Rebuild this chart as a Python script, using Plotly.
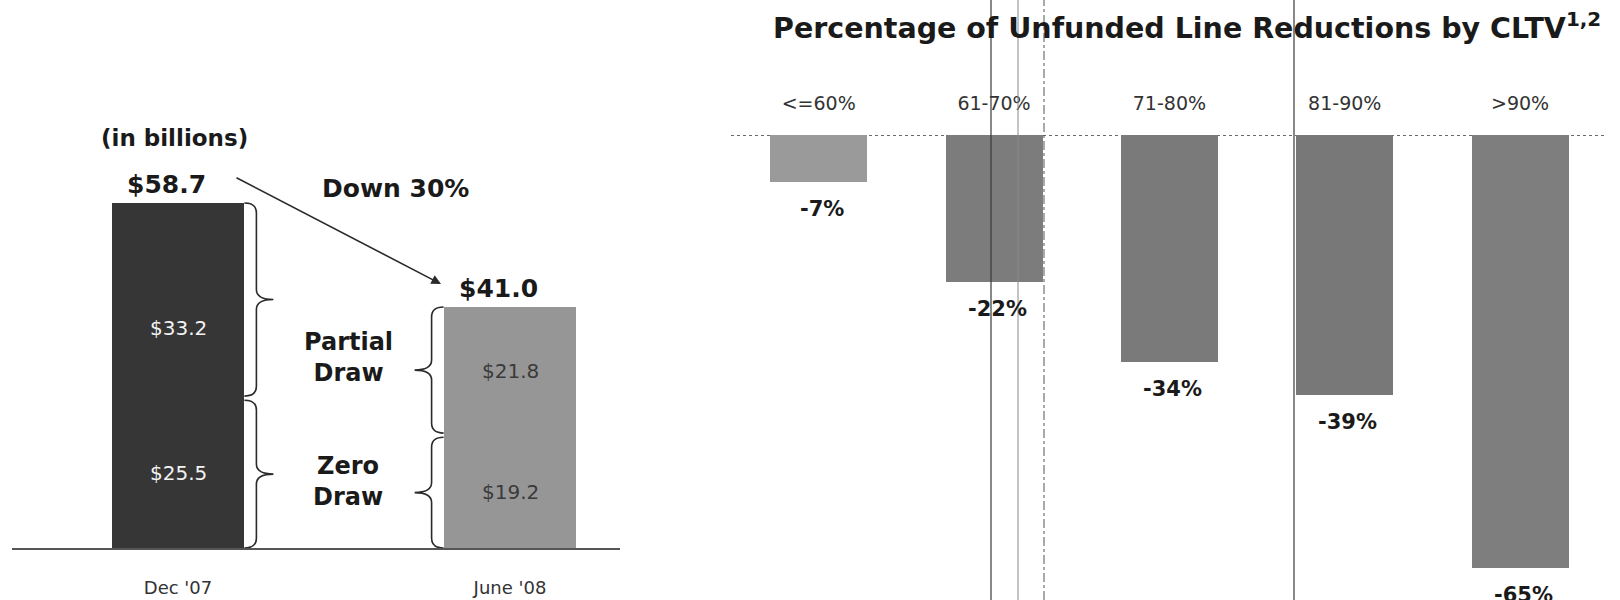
import plotly.graph_objects as go

# ---------------- data ----------------
periods = ["Dec '07", "June '08"]
zero_draw = [25.5, 19.2]
partial_draw = [33.2, 21.8]

cltv_buckets = ["<=60%", "61-70%", "71-80%", "81-90%", ">90%"]
reductions = [-7, -22, -34, -39, -65]

# ---------------- style ----------------
W, H = 1620, 600
FONT = "DejaVu Sans"
left_colors = ["#363636", "#969696"]
left_text_colors = ["#f2f2f2", "#3a3a3a"]
right_colors = ["#9a9a9a", "#7c7c7c", "#7a7a7a", "#787878", "#7e7e7e"]

# left plot geometry (pixels)
L_X0, L_X1 = 12, 620
L_YB, L_YT = 548, 100
L_PX_PER_X = 332.0
L_C0 = 178.0
L_RANGE_Y = 76.23
L_PX_PER_Y = (L_YB - L_YT) / L_RANGE_Y
BAR_W_L = 0.40

# right plot geometry
R_X0, R_X1 = 731, 1606
R_Y0 = 135
R_RANGE = [-69.75, 0]
BAR_W_R = 0.553


def px(x):
    return x / W


def py(y):
    return 1 - y / H


fig = go.Figure()
idx_l = list(range(len(periods)))
idx_r = list(range(len(cltv_buckets)))

fig.add_trace(go.Bar(x=idx_l, y=zero_draw, width=BAR_W_L, marker=dict(color=left_colors, line=dict(width=0)),
                     xaxis="x", yaxis="y", hoverinfo="skip", name="Zero Draw"))
fig.add_trace(go.Bar(x=idx_l, y=partial_draw, width=BAR_W_L, marker=dict(color=left_colors, line=dict(width=0)),
                     xaxis="x", yaxis="y", hoverinfo="skip", name="Partial Draw"))
fig.add_trace(go.Bar(x=idx_r, y=reductions, width=BAR_W_R, marker=dict(color=right_colors, line=dict(width=0)),
                     xaxis="x2", yaxis="y2", hoverinfo="skip", name="Reduction"))

annotations = []
shapes = []


def note(x, y, text, size, color="#1a1a1a", **kw):
    d = dict(x=x, y=y, xref="paper", yref="paper", text=text, showarrow=False,
             xanchor="center", yanchor="middle", font=dict(family=FONT, size=size, color=color))
    d.update(kw)
    return d


# ---- left: totals, segment labels
totals = [z + p for z, p in zip(zero_draw, partial_draw)]
for i, t in enumerate(totals):
    annotations.append(note(i, t, f"<b>${t:.1f}</b>", 25, xref="x", yref="y", xshift=-12, yshift=19))
partial_shift = [-27, 0]
for i in idx_l:
    annotations.append(note(i, zero_draw[i] / 2, f"${zero_draw[i]:.1f}", 20, left_text_colors[i],
                            xref="x", yref="y"))
    annotations.append(note(i, zero_draw[i] + partial_draw[i] / 2, f"${partial_draw[i]:.1f}", 20,
                            left_text_colors[i], xref="x", yref="y", yshift=partial_shift[i]))

down_pct = round((totals[0] - totals[1]) / totals[0] * 100)
annotations += [
    note(px(174), py(138), "<b>(in billions)</b>", 23),
    note(px(395), py(189), f"<b>Down {down_pct}%</b>", 25),
    note(px(348), py(357), "<b>Partial<br>Draw</b>", 24),
    note(px(348), py(481), "<b>Zero<br>Draw</b>", 24),
]
# arrow
annotations.append(dict(x=(441 - L_C0) / L_PX_PER_X, y=(L_YB - 284) / L_PX_PER_Y, xref="x", yref="y",
                        ax=(235 - L_C0) / L_PX_PER_X, ay=(L_YB - 177) / L_PX_PER_Y, axref="x", ayref="y",
                        text="", showarrow=True, arrowhead=2, arrowsize=1.2, arrowwidth=1.6, arrowcolor="#2a2a2a"))


# braces
def brace_path(xe, y0, y1, d):
    xm = xe + d * 12 / L_PX_PER_X
    xt = xe + d * 29 / L_PX_PER_X
    r = 10 / L_PX_PER_Y
    ym = (y0 + y1) / 2
    return (f"M {xe},{y1} Q {xm},{y1} {xm},{y1 - r} L {xm},{ym + r} Q {xm},{ym} {xt},{ym} "
            f"Q {xm},{ym} {xm},{ym - r} L {xm},{y0 + r} Q {xm},{y0} {xe},{y0}")


gap = 0.35
for i, d in zip(idx_l, [1, -1]):
    xe = i + d * BAR_W_L / 2
    z = zero_draw[i]
    t = totals[i]
    for (a, b) in [(0, z - gap), (z + gap, t)]:
        shapes.append(dict(type="path", xref="x", yref="y", path=brace_path(xe, a, b, d),
                           line=dict(color="#2a2a2a", width=1.6)))

# ---- right: title, value labels, baseline
annotations.append(note(px(771), py(26), "<b>Percentage of Unfunded Line Reductions by CLTV<sup>1,2</sup></b>",
                        28.5, xanchor="left"))
for i, v in zip(idx_r, reductions):
    annotations.append(note(i, v, f"<b>{v}%</b>", 21, xref="x2", yref="y2", yanchor="top",
                            yshift=-13, xshift=3))

shapes.append(dict(type="line", xref="x2 domain", yref="y2", x0=0, x1=1, y0=0, y1=0,
                   line=dict(color="#6a6a6a", width=2, dash="dot"), layer="below"))

# scan artifact vertical lines
for xv, col, dash, wd in [(991, "#3a3a3a", "solid", 1.2), (1018, "#8a8a8a", "solid", 1),
                          (1044, "#555555", "dashdot", 1), (1294, "#3a3a3a", "solid", 1.2)]:
    shapes.append(dict(type="line", xref="paper", yref="paper", x0=px(xv), x1=px(xv), y0=0, y1=1,
                       line=dict(color=col, width=wd, dash=dash), layer="above"))

fig.update_layout(
    width=W, height=H,
    margin=dict(l=0, r=0, t=0, b=0),
    paper_bgcolor="white", plot_bgcolor="white",
    showlegend=False, barmode="stack", bargap=0,
    font=dict(family=FONT, color="#222"),
    xaxis=dict(domain=[px(L_X0), px(L_X1)], range=[(L_X0 - L_C0) / L_PX_PER_X, (L_X1 - L_C0) / L_PX_PER_X],
               tickvals=idx_l, ticktext=periods, showline=True, linecolor="#555", linewidth=2,
               showgrid=False, zeroline=False, ticks="", ticklabelstandoff=22,
               tickfont=dict(family=FONT, size=18, color="#333"), anchor="y"),
    yaxis=dict(domain=[py(L_YB), py(L_YT)], range=[0, L_RANGE_Y], visible=False, anchor="x"),
    xaxis2=dict(domain=[px(R_X0), px(R_X1)], range=[-0.5, 4.49], side="top", anchor="y2",
                tickvals=idx_r, ticktext=cltv_buckets, showline=False, showgrid=False, zeroline=False,
                ticks="", ticklabelstandoff=20, tickfont=dict(family=FONT, size=19, color="#333")),
    yaxis2=dict(domain=[0, py(R_Y0)], range=R_RANGE, visible=False, anchor="x2"),
    annotations=annotations,
    shapes=shapes,
)

fig.write_html("out.html", config={"displayModeBar": False},
               post_script="document.body.style.margin='0px';document.body.style.overflow='hidden';")
